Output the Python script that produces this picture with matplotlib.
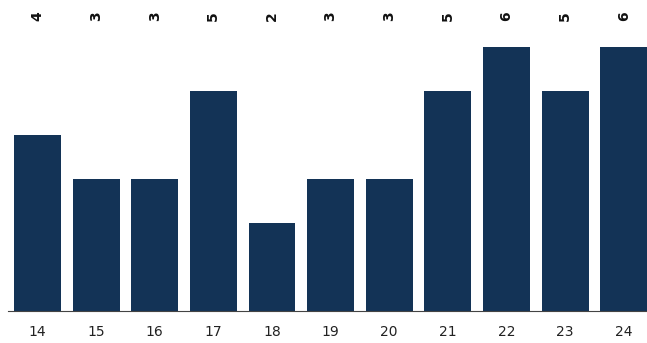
import matplotlib.pyplot as plt

categories = ["14", "15", "16", "17", "18", "19", "20", "21", "22", "23", "24"]
counts = [4, 3, 3, 5, 2, 3, 3, 5, 6, 5, 6]

W, H = 647, 343
fig = plt.figure(figsize=(W / 100, H / 100), dpi=100)

# axes placed in pixel terms: baseline at y=311, value 6 at y=47
left_px, right_px = 8.2, 653.0
base_px, top_px = 311.0, 47.0
ax = fig.add_axes([left_px / W, (H - base_px) / H,
                   (right_px - left_px) / W, (base_px - top_px) / H])

x = list(range(len(categories)))
ax.bar(x, counts, width=0.8, color="#133356")
ax.set_xlim(-0.5, len(categories) - 0.5)
ax.set_ylim(0, 6)

ax.set_xticks(x)
ax.set_xticklabels(categories, fontsize=10, color="#222222")
ax.tick_params(axis="x", length=0, pad=10)
ax.set_yticks([])

for side in ["top", "right", "left"]:
    ax.spines[side].set_visible(False)
ax.spines["bottom"].set_color("#444444")
ax.spines["bottom"].set_linewidth(0.8)

# value labels along the top, rotated
label_y = 6 + (top_px - 16) / ((base_px - top_px) / 6)
for xi, c in zip(x, counts):
    ax.text(xi, label_y, str(c), rotation=90, ha="center", va="center",
            fontsize=10, fontweight="bold", color="#111111", clip_on=False)

fig.savefig("out.png", dpi=100)
